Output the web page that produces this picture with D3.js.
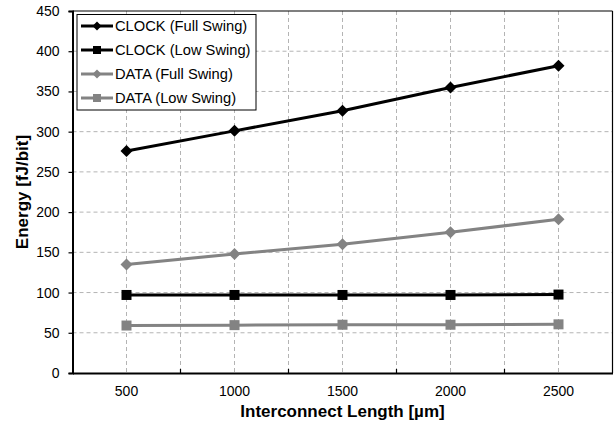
<!DOCTYPE html>
<html>
<head>
<meta charset="utf-8">
<script src="https://cdn.jsdelivr.net/npm/d3@7"></script>
<style>
  html, body { margin: 0; padding: 0; background: #fff; }
  svg { display: block; font-family: "Liberation Sans", Arial, sans-serif; }
</style>
</head>
<body>
<svg id="chart" width="616" height="432"></svg>
<script>
const categories = [500, 1000, 1500, 2000, 2500];
const clockFull = [276, 301, 326, 355, 382];
const clockLow = [97, 97, 97, 97, 97.5];
const dataFull = [135, 148, 160, 175, 191];
const dataLow = [59, 59.5, 60, 60, 60.5];
const seriesNames = ["CLOCK (Full Swing)", "CLOCK (Low Swing)", "DATA (Full Swing)", "DATA (Low Swing)"];
const yTicks = [0, 50, 100, 150, 200, 250, 300, 350, 400, 450];
const xTitle = "Interconnect Length [µm]";
const yTitle = "Energy [fJ/bit]";

const series = [
  { name: seriesNames[0], values: clockFull, color: "#000000", shape: "diamond" },
  { name: seriesNames[1], values: clockLow, color: "#000000", shape: "square" },
  { name: seriesNames[2], values: dataFull, color: "#838383", shape: "diamond" },
  { name: seriesNames[3], values: dataLow, color: "#838383", shape: "square" }
];

const svg = d3.select("#chart");
const L = 72.5, R = 612.5, T = 11, B = 373;

const x = d3.scaleBand().domain(categories).range([L, R]).padding(0);
const cx = d => x(d) + x.bandwidth() / 2;
const y = d3.scaleLinear().domain([0, 450]).range([B, T]);

// gridlines
const g = svg.append("g");
const vLines = [];
categories.forEach((c, i) => {
  vLines.push(cx(c));
  if (i > 0) vLines.push(x(c));
});
g.selectAll("line.vg").data(vLines).join("line")
  .attr("x1", d => d).attr("x2", d => d).attr("y1", T).attr("y2", B)
  .attr("stroke", "#b4b4b4").attr("stroke-width", 1).attr("stroke-dasharray", "4,3");
g.selectAll("line.hg").data(yTicks.filter(t => t > 0 && t < 450)).join("line")
  .attr("x1", L).attr("x2", R).attr("y1", d => y(d)).attr("y2", d => y(d))
  .attr("stroke", "#b4b4b4").attr("stroke-width", 1).attr("stroke-dasharray", "4,3");

// frame top/right
svg.append("line").attr("x1", L).attr("x2", R).attr("y1", T).attr("y2", T).attr("stroke", "#000").attr("stroke-width", 1.2);
svg.append("line").attr("x1", R).attr("x2", R).attr("y1", T).attr("y2", B).attr("stroke", "#000").attr("stroke-width", 1.2);

// y axis
const yAxis = svg.append("g").attr("transform", `translate(${L},0)`)
  .call(d3.axisLeft(y).tickValues(yTicks).tickSize(4).tickPadding(9));
yAxis.select(".domain").attr("stroke", "#000").attr("stroke-width", 2);
yAxis.selectAll(".tick line").attr("stroke", "#000").attr("stroke-width", 1.2);
yAxis.selectAll(".tick text").attr("font-size", 14).attr("fill", "#000")
  .attr("font-family", "Liberation Sans, Arial, sans-serif");

// x axis
const xAxis = svg.append("g").attr("transform", `translate(0,${B})`)
  .call(d3.axisBottom(x).tickSize(0).tickPadding(13));
xAxis.select(".domain").attr("stroke", "#000").attr("stroke-width", 2);
xAxis.selectAll(".tick text").attr("font-size", 14).attr("fill", "#000")
  .attr("font-family", "Liberation Sans, Arial, sans-serif");
// inner tick marks at category boundaries
svg.append("g").selectAll("line").data(categories.slice(1)).join("line")
  .attr("x1", d => x(d)).attr("x2", d => x(d)).attr("y1", B).attr("y2", B - 4)
  .attr("stroke", "#000").attr("stroke-width", 1.2);

// titles
svg.append("text").attr("x", (L + R) / 2).attr("y", 417).attr("text-anchor", "middle")
  .attr("font-size", 17).attr("font-weight", "bold").text(xTitle);
svg.append("text").attr("transform", `translate(27.5,${(T + B) / 2}) rotate(-90)`)
  .attr("text-anchor", "middle").attr("font-size", 17).attr("font-weight", "bold").text(yTitle);

// markers
function drawMarker(sel, shape, color, px, py, size) {
  const h = size / 2;
  if (shape === "diamond") {
    sel.append("path").attr("d", `M${px},${py - h}L${px + h},${py}L${px},${py + h}L${px - h},${py}Z`)
      .attr("fill", color);
  } else {
    sel.append("rect").attr("x", px - h).attr("y", py - h).attr("width", size).attr("height", size)
      .attr("fill", color);
  }
}

const line = d3.line().x((d, i) => cx(categories[i])).y(d => y(d));
const plot = svg.append("g");
series.slice().reverse().forEach(s => {
  plot.append("path").attr("d", line(s.values)).attr("fill", "none")
    .attr("stroke", s.color).attr("stroke-width", 3);
  s.values.forEach((v, i) => {
    drawMarker(plot, s.shape, s.color, cx(categories[i]), y(v), s.shape === "diamond" ? 12 : 10);
  });
});

// legend
const lg = svg.append("g");
lg.append("rect").attr("x", 77).attr("y", 14.5).attr("width", 179).attr("height", 95.5)
  .attr("fill", "#fff").attr("stroke", "#000").attr("stroke-width", 1);
series.forEach((s, i) => {
  const yy = 26 + i * 24;
  lg.append("line").attr("x1", 81).attr("x2", 113).attr("y1", yy).attr("y2", yy)
    .attr("stroke", s.color).attr("stroke-width", 3);
  drawMarker(lg, s.shape, s.color, 97, yy, s.shape === "diamond" ? 9 : 8);
  lg.append("text").attr("x", 115).attr("y", yy + 5).attr("font-size", 14.7).attr("fill", "#000")
    .text(s.name);
});
</script>
</body>
</html>
